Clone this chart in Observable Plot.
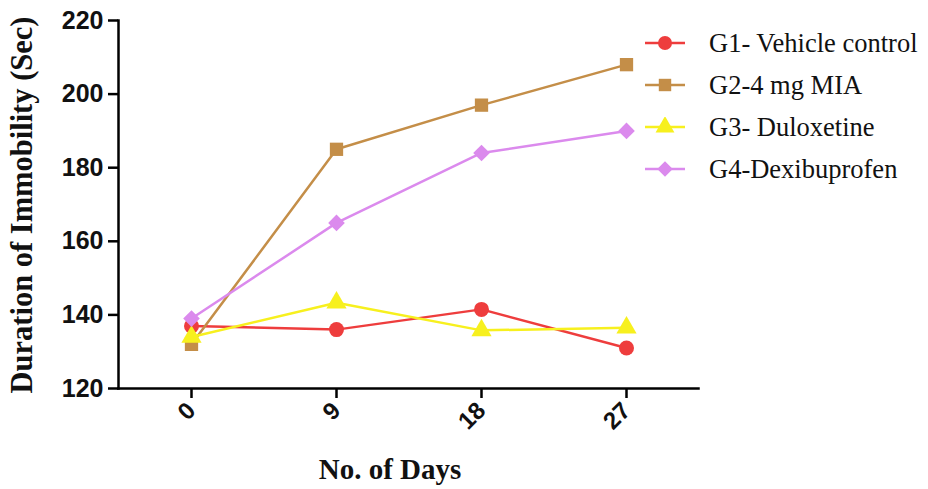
<!DOCTYPE html>
<html>
<head>
<meta charset="utf-8">
<script src="https://cdn.jsdelivr.net/npm/d3@7"></script>
<script src="https://cdn.jsdelivr.net/npm/@observablehq/plot@0.6"></script>
<style>
  html, body { margin: 0; padding: 0; background: #fff; }
  #wrap { position: relative; width: 928px; height: 489px; }
  #legend { position: absolute; left: 643px; top: 22px; font-family: "Liberation Serif", "Times New Roman", serif; font-size: 26.5px; color: #111; }
  .row { display: flex; align-items: center; height: 42px; }
  .row svg { margin-right: 22px; }
</style>
</head>
<body>
<div id="wrap"></div>
<script>
const days = [0, 9, 18, 27];
const groups = ["G1- Vehicle control", "G2-4 mg MIA", "G3- Duloxetine", "G4-Dexibuprofen"];
const g1 = [137, 136, 141.5, 131];
const g2 = [132, 185, 197, 208];
const g3 = [134, 143.3, 135.8, 136.5];
const g4 = [139, 165, 184, 190];
const colors = ["#ee3d3d", "#c48e48", "#f7f01e", "#db8aed"];
const symbols = ["circle", "square", "triangle", "diamond2"];
const yTicks = [120, 140, 160, 180, 200, 220];

const series = [g1, g2, g3, g4];
const data = [];
series.forEach((vals, gi) => vals.forEach((v, di) => data.push({group: groups[gi], day: days[di], value: v})));

const chart = Plot.plot({
  width: 928,
  height: 489,
  marginLeft: 118,
  marginTop: 20,
  marginBottom: 101,
  marginRight: 230,
  x: {type: "point", domain: days, padding: 0.5},
  y: {domain: [120, 220]},
  color: {domain: groups, range: colors},
  symbol: {domain: groups, range: symbols},
  marks: [
    Plot.axisY({ticks: yTicks, tickSize: 10, tickPadding: 5, strokeWidth: 2.5, label: null,
      fontSize: 25, fontWeight: "bold", fontFamily: "Liberation Sans, Arial, sans-serif", fill: "#111"}),
    Plot.axisX({tickSize: 10, tickPadding: 8, strokeWidth: 2.5, tickRotate: -45, label: null,
      fontSize: 24, fontWeight: "bold", fontFamily: "Liberation Sans, Arial, sans-serif", fill: "#111"}),
    Plot.frame({anchor: "left", strokeWidth: 2.5, stroke: "#000"}),
    Plot.frame({anchor: "bottom", strokeWidth: 2.5, stroke: "#000"}),
    Plot.line(data, {x: "day", y: "value", z: "group", stroke: "group", strokeWidth: 2.5}),
    Plot.dot(data, {x: "day", y: "value", fill: "group", symbol: "group", r: 7.5, stroke: "none"})
  ]
});

const wrap = document.getElementById("wrap");
chart.style.position = "absolute";
chart.style.left = "0";
chart.style.top = "0";
wrap.appendChild(chart);

const svg = d3.select(chart);
svg.append("text")
  .attr("transform", `translate(32, 205) rotate(-90)`)
  .attr("text-anchor", "middle")
  .attr("font-family", "Liberation Serif, Times New Roman, serif")
  .attr("font-weight", "bold")
  .attr("font-size", 30.5)
  .attr("fill", "#111")
  .text("Duration of Immobility (Sec)");
svg.append("text")
  .attr("x", 390)
  .attr("y", 479)
  .attr("text-anchor", "middle")
  .attr("font-family", "Liberation Serif, Times New Roman, serif")
  .attr("font-weight", "bold")
  .attr("font-size", 29)
  .attr("fill", "#111")
  .text("No. of Days");

const legend = document.createElement("div");
legend.id = "legend";
groups.forEach((g, i) => {
  const row = document.createElement("div");
  row.className = "row";
  const s = d3.create("svg").attr("width", 44).attr("height", 20);
  s.append("line").attr("x1", 2).attr("x2", 42).attr("y1", 10).attr("y2", 10)
    .attr("stroke", colors[i]).attr("stroke-width", 2.5);
  const sym = {circle: d3.symbolCircle, square: d3.symbolSquare, triangle: d3.symbolTriangle, diamond2: d3.symbolDiamond2}[symbols[i]];
  s.append("path").attr("d", d3.symbol(sym, Math.PI * 49)()).attr("transform", "translate(22,10)").attr("fill", colors[i]);
  row.appendChild(s.node());
  const t = document.createElement("span");
  t.textContent = g;
  row.appendChild(t);
  legend.appendChild(row);
});
wrap.appendChild(legend);
</script>
</body>
</html>
